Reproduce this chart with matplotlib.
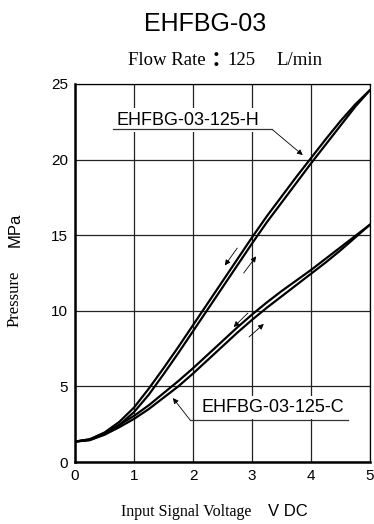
import matplotlib
matplotlib.use("Agg")
import matplotlib.pyplot as plt

# ---- data ----
voltage = [0, 0.25, 0.5, 0.75, 1.0, 1.25, 1.5, 1.75, 2.0, 2.25, 2.5, 2.75,
           3.0, 3.25, 3.5, 3.75, 4.0, 4.25, 4.5, 4.75, 5.0]
h_down = [1.35, 1.5, 1.95, 2.65, 3.6, 4.85, 6.2, 7.6, 9.05, 10.5, 11.95, 13.4,
          14.85, 16.25, 17.55, 18.85, 20.1, 21.35, 22.55, 23.65, 24.6]
h_up = [1.35, 1.45, 1.85, 2.45, 3.3, 4.45, 5.8, 7.2, 8.65, 10.1, 11.55, 13.0,
        14.45, 15.85, 17.15, 18.45, 19.75, 21.0, 22.25, 23.5, 24.6]
c_down = [1.35, 1.5, 1.9, 2.45, 3.05, 3.75, 4.55, 5.35, 6.2, 7.1, 8.0, 8.9,
          9.75, 10.55, 11.3, 12.0, 12.7, 13.45, 14.2, 14.95, 15.7]
c_up = [1.35, 1.45, 1.8, 2.3, 2.85, 3.5, 4.25, 5.0, 5.85, 6.75, 7.65, 8.55,
        9.4, 10.2, 10.95, 11.7, 12.45, 13.2, 14.0, 14.85, 15.7]

x_ticks = [0, 1, 2, 3, 4, 5]
y_ticks = [0, 5, 10, 15, 20, 25]

title = "EHFBG-03"
subtitle_a = "Flow Rate"
subtitle_colon = "\uff1a"
subtitle_num = "125"
subtitle_unit = "L/min"
label_h = "EHFBG-03-125-H"
label_c = "EHFBG-03-125-C"

SANS = "Liberation Sans"
SERIF = "Liberation Serif"

fig = plt.figure(figsize=(3.74, 5.24), dpi=100)
ax = fig.add_axes([75 / 374, 1 - 462 / 524, 295 / 374, 378 / 524])

ax.set_xlim(0, 5)
ax.set_ylim(0, 25)
ax.set_xticks(x_ticks)
ax.set_yticks(y_ticks)
ax.tick_params(length=0, labelsize=11, pad=5)
for lab in ax.get_xticklabels() + ax.get_yticklabels():
    lab.set_fontfamily(SANS)
ax.grid(True, color="#222222", lw=0.9)
ax.set_axisbelow(True)
for s in ["left", "bottom"]:
    ax.spines[s].set_linewidth(1.8)
for s in ["top", "right"]:
    ax.spines[s].set_linewidth(0.9)

for ys in (h_down, h_up, c_down, c_up):
    ax.plot(voltage, ys, color="black", lw=1.6, zorder=3,
            solid_joinstyle="round", solid_capstyle="round")

# hysteresis direction arrows
ap = dict(arrowstyle="-|>", lw=0.6, color="black", mutation_scale=8, shrinkA=0, shrinkB=0)
ax.annotate("", xy=(2.54, 13.0), xytext=(2.75, 14.15), arrowprops=ap)
ax.annotate("", xy=(3.07, 13.6), xytext=(2.86, 12.5), arrowprops=ap)
ax.annotate("", xy=(2.69, 8.93), xytext=(2.93, 9.85), arrowprops=ap)
ax.annotate("", xy=(3.2, 9.13), xytext=(2.95, 8.27), arrowprops=ap)

# labels with underline + leader
ax.text(0.71, 22.6, label_h, fontsize=13, family=SANS, ha="left", va="center", zorder=4,
        bbox=dict(facecolor="white", edgecolor="none", pad=2.5))
ax.plot([0.64, 3.34], [22.0, 22.0], color="#333333", lw=0.9, zorder=4)
ax.annotate("", xy=(3.86, 20.3), xytext=(3.34, 22.0), arrowprops=ap)

ax.text(2.14, 3.6, label_c, fontsize=13, family=SANS, ha="left", va="center", zorder=4,
        bbox=dict(facecolor="white", edgecolor="none", pad=2.5))
ax.plot([1.95, 4.63], [2.78, 2.78], color="#333333", lw=0.9, zorder=4)
ax.annotate("", xy=(1.66, 4.23), xytext=(1.95, 2.78), arrowprops=ap)

# titles
fig.text(205 / 374, 1 - 24 / 524, title, fontsize=18, family=SANS, ha="center", va="center")
fig.text(128 / 374, 1 - 61 / 524, subtitle_a, fontsize=13.5, family=SERIF,
         ha="left", va="center")
fig.text(216 / 374, 1 - 60 / 524, subtitle_colon, fontsize=15, fontweight="bold",
         family=["Noto Sans CJK JP", "DejaVu Sans"], ha="center", va="center")
fig.text(227 / 374, 1 - 61 / 524, subtitle_num, fontsize=13.5, family=SERIF,
         ha="left", va="center")
fig.text(323 / 374, 1 - 61 / 524, subtitle_unit, fontsize=13.5, family=SERIF,
         ha="right", va="center")

# axis labels
fig.text(15 / 374, 1 - 299 / 524, "Pressure", fontsize=12, family=SERIF,
         rotation=90, ha="center", va="center")
fig.text(15 / 374, 1 - 230 / 524, "MPa", fontsize=12, family=SANS,
         rotation=90, ha="center", va="center")
fig.text(186 / 374, 1 - 512 / 524, "Input Signal Voltage", fontsize=11.5, family=SERIF,
         ha="center", va="center")
fig.text(288 / 374, 1 - 512 / 524, "V DC", fontsize=12, family=SANS,
         ha="center", va="center")

fig.savefig("out.png", dpi=100)
